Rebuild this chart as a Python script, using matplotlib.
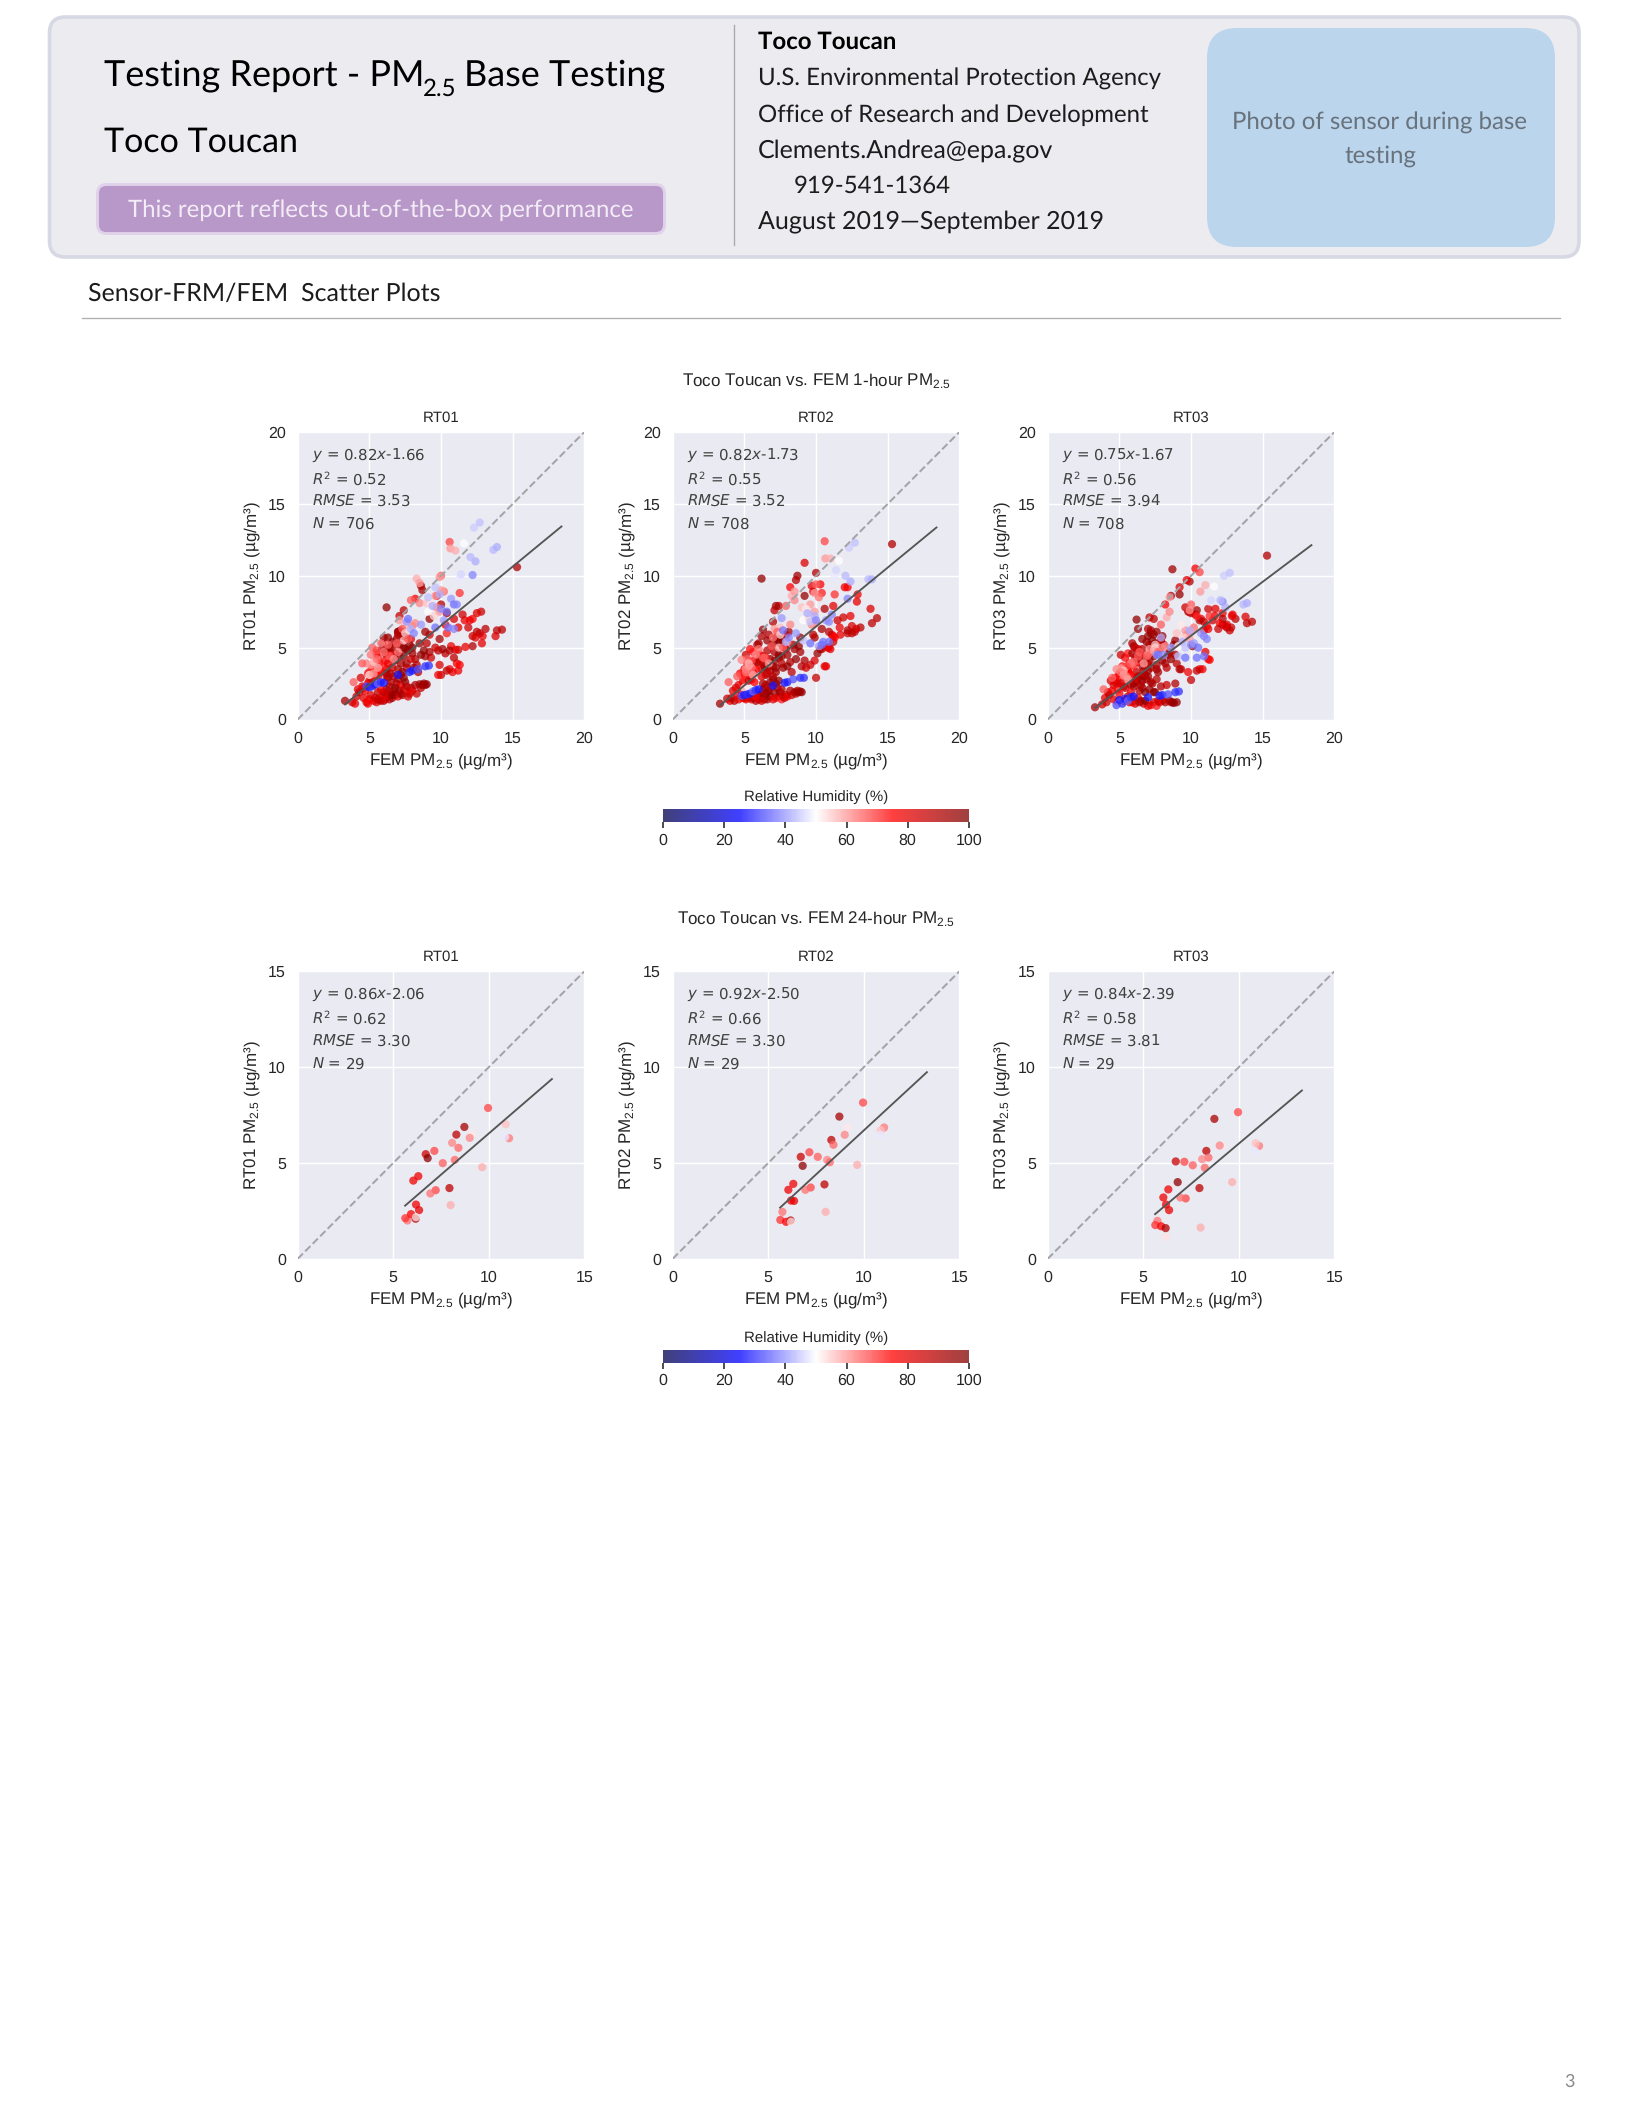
import matplotlib
matplotlib.use("Agg")
import matplotlib.pyplot as plt
from matplotlib.cm import ScalarMappable
from matplotlib.colors import Normalize
from matplotlib.patches import FancyBboxPatch

plt.rcParams["font.family"] = ["Liberation Sans", "DejaVu Sans"]
plt.rcParams["mathtext.fontset"] = "custom"
plt.rcParams["mathtext.rm"] = "Liberation Sans"
plt.rcParams["text.hinting"] = "no_hinting"
plt.rcParams["text.hinting_factor"] = 1

sensors = ["RT01", "RT02", "RT03"]

# 1-hour averages: FEM reference, the three sensors and relative humidity
hour_fem = [
    15.3, 14.25, 13.9, 13.8, 13.1, 12.9, 12.85, 12.8, 12.7, 12.5, 12.5, 12.4,
    12.2, 12.2, 12.2, 12.0, 11.9, 11.7, 11.65, 11.5, 11.2, 11.2, 11.2, 11.1,
    11.3, 11.0, 10.9, 10.9, 10.8, 10.7, 10.6, 10.6, 10.4, 10.4, 10.3, 10.1,
    10.0, 10.0, 9.9, 9.9, 9.8, 9.8, 9.6, 9.3, 9.2, 9.2, 9.0, 8.9,
    8.7, 8.6, 9.2, 8.2, 10.3, 10.4, 9.7, 7.4, 7.1, 7.2, 7.0, 6.2,
    6.3, 5.9, 8.9, 8.5, 8.6, 8.2, 8.0, 8.3, 7.6, 7.9, 7.8, 7.6,
    7.4, 7.2, 7.0, 6.9, 7.1, 7.4, 6.6, 6.3, 6.0, 6.8, 7.1, 7.4,
    6.6, 6.2, 5.6, 6.5, 7.0, 7.6, 6.1, 5.6, 5.0, 4.6, 4.9, 5.4,
    5.2, 5.7, 6.0, 6.3, 6.5, 6.8, 5.0, 5.4, 5.8, 6.2, 6.6, 7.2,
    4.4, 4.7, 5.1, 5.5, 5.9, 6.2, 6.6, 7.0, 7.3, 7.7, 8.0, 8.4,
    4.2, 4.9, 5.3, 5.7, 6.1, 6.4, 6.7, 7.2, 7.5, 7.9, 8.1, 8.8,
    3.3, 3.8, 4.0, 4.1, 4.3, 4.5, 4.6, 4.8, 4.9, 5.0, 5.1, 5.3,
    5.4, 5.5, 5.6, 5.7, 5.8, 5.9, 6.0, 6.1, 6.2, 6.3, 6.4, 6.5,
    6.6, 6.7, 6.8, 6.9, 7.0, 7.1, 7.2, 7.3, 7.4, 7.5, 7.6, 7.7,
    7.8, 7.9, 8.0, 8.2, 8.3, 8.5, 8.6, 8.7, 8.8, 8.9, 9.0, 6.3,
    5.6, 6.0, 6.4, 6.8, 7.2, 7.6, 5.8, 6.2, 6.6, 7.0, 7.4, 6.5,
    11.6, 10.6, 10.65, 11.0, 10.0, 9.9, 8.3, 8.5, 7.9, 8.5, 9.6, 10.2,
    9.0, 9.3, 9.7, 9.1, 9.5, 9.9, 7.1, 7.5, 7.3, 7.5, 6.3, 5.8,
    5.2, 5.5, 4.8, 5.1, 5.3, 5.5, 5.6, 5.1, 4.5, 3.9, 5.0, 5.3,
    6.0, 6.4, 6.7, 7.0, 7.4, 6.9, 11.3, 11.3, 10.0, 7.7, 8.0, 8.2,
    7.6, 7.7, 7.9, 8.1, 8.6, 9.1, 9.4, 9.6, 9.9, 10.0, 10.2,
    10.4, 10.7, 10.9, 11.1, 10.5, 10.9, 9.6, 12.2, 12.4, 12.05, 11.4,
    13.65, 13.9, 12.3, 12.7,
    4.8, 5.0, 5.2, 5.4, 5.6, 5.8, 6.0, 7.0, 7.8, 8.0, 8.4, 8.9, 9.15,
]
hour_rt01 = [
    10.6, 6.25, 6.2, 5.8, 6.3, 5.8, 5.3, 7.5, 6.0, 7.4, 6.1, 5.7,
    7.0, 5.8, 5.1, 6.9, 6.4, 5.05, 6.9, 7.3, 6.4, 3.4, 4.85, 3.9,
    3.8, 4.85, 4.3, 7.0, 3.3, 5.1, 4.8, 3.5, 3.4, 7.4, 4.6, 4.9,
    3.1, 8.0, 3.8, 5.6, 3.1, 4.8, 5.0, 4.3, 4.7, 7.0, 5.3, 4.4,
    9.0, 9.3, 5.9, 8.4, 6.6, 6.0, 8.6, 7.6, 7.2, 6.0, 6.1, 7.8,
    5.7, 5.3, 6.1, 5.3, 4.5, 4.2, 4.6, 3.8, 3.9, 5.6, 5.2, 5.7,
    5.8, 6.2, 6.1, 5.6, 5.2, 5.0, 5.0, 4.7, 5.7, 4.6, 4.4, 4.4,
    4.2, 3.5, 3.0, 3.2, 3.5, 3.6, 4.1, 4.3, 2.7, 2.2, 2.5, 3.1,
    3.6, 3.9, 3.7, 3.9, 4.5, 4.1, 3.3, 3.4, 3.3, 3.0, 3.6, 3.9,
    2.9, 2.0, 2.9, 4.6, 4.9, 3.2, 5.4, 5.9, 3.3, 4.8, 5.0, 3.3,
    2.1, 3.2, 2.4, 3.4, 4.6, 5.0, 3.0, 3.1, 4.9, 4.2, 3.6, 4.8,
    1.3, 1.2, 1.1, 1.6, 1.9, 2.3, 1.5, 1.2, 1.1, 1.4, 1.7, 1.3,
    1.5, 1.2, 1.9, 1.4, 1.3, 1.7, 1.3, 1.4, 2.1, 1.6, 1.4, 1.8,
    1.5, 2.0, 1.7, 2.5, 1.6, 2.0, 2.4, 1.7, 2.1, 2.6, 1.9, 1.6,
    1.8, 2.2, 2.0, 2.4, 1.8, 2.45, 2.2, 2.4, 2.5, 2.4, 2.45, 2.9,
    1.4, 1.9, 2.3, 2.2, 1.8, 2.3, 2.1, 1.8, 1.7, 2.8, 2.9, 2.6,
    12.25, 12.35, 11.9, 11.75, 10.0, 9.9, 9.8, 9.5, 8.3, 8.1, 8.6, 8.9,
    8.1, 8.0, 7.8, 7.5, 7.2, 7.5, 6.9, 6.6, 6.3, 6.0, 5.2, 5.3,
    5.0, 4.8, 3.9, 3.8, 4.0, 4.2, 3.6, 4.5, 3.9, 2.6, 3.1, 3.2,
    4.7, 4.4, 4.2, 4.7, 5.5, 5.3, 9.8, 8.8, 9.0, 5.6, 6.5, 6.7,
    6.8, 7.0, 6.3, 6.0, 6.6, 8.5, 7.9, 9.2, 8.7, 7.7, 6.9,
    7.5, 8.4, 8.0, 8.0, 6.4, 6.3, 6.4, 10.05, 11.0, 11.3, 10.1,
    11.8, 12.0, 13.35, 13.7,
    2.3, 2.25, 2.3, 2.45, 2.5, 2.6, 2.55, 3.1, 3.3, 3.4, 3.5, 3.7, 3.75,
]
hour_rt02 = [
    12.2, 7.05, 6.7, 7.7, 6.4, 8.7, 8.2, 6.3, 6.1, 6.5, 6.0, 7.2,
    9.2, 6.0, 6.2, 9.2, 7.1, 5.9, 6.4, 6.9, 7.9, 5.8, 5.4, 5.9,
    5.7, 4.9, 6.1, 5.0, 5.0, 3.7, 7.7, 3.7, 4.9, 6.3, 4.9, 4.6,
    2.9, 10.2, 4.1, 5.7, 8.9, 5.9, 3.8, 3.6, 4.1, 8.6, 3.7, 4.7,
    10.0, 9.7, 10.9, 9.2, 9.4, 8.8, 9.3, 7.9, 7.6, 7.9, 6.8, 9.8,
    6.25, 5.2, 5.7, 4.9, 4.2, 4.0, 4.5, 3.3, 4.4, 5.9, 5.0, 5.6,
    5.5, 5.7, 5.3, 5.1, 4.7, 4.5, 4.8, 4.4, 5.3, 4.2, 4.1, 4.3,
    3.6, 3.5, 3.3, 3.1, 3.7, 3.9, 4.5, 4.7, 3.5, 2.4, 2.6, 4.9,
    3.9, 4.1, 3.8, 3.9, 4.3, 3.4, 3.1, 3.0, 3.5, 3.0, 3.2, 3.3,
    2.2, 3.2, 4.5, 2.8, 4.0, 5.8, 5.5, 3.0, 5.7, 3.6, 3.7, 5.2,
    2.0, 2.9, 2.7, 2.6, 4.2, 3.7, 5.9, 3.6, 5.3, 4.9, 6.1, 5.1,
    1.1, 1.45, 1.3, 1.5, 1.3, 1.7, 1.4, 2.0, 1.5, 1.5, 1.4, 1.5,
    1.6, 1.4, 1.5, 1.6, 1.3, 1.5, 1.4, 1.7, 1.5, 2.0, 1.4, 1.8,
    1.4, 2.0, 1.6, 2.3, 1.4, 1.9, 1.5, 2.2, 1.6, 1.9, 1.4, 1.6,
    1.5, 1.7, 1.6, 2.0, 1.7, 1.9, 1.8, 2.0, 1.9, 1.95, 1.9, 2.5,
    1.8, 1.7, 2.2, 2.6, 2.5, 2.1, 1.6, 1.3, 1.9, 2.8, 2.7, 2.4,
    11.05, 12.4, 11.2, 11.2, 9.4, 8.8, 8.6, 8.9, 7.9, 8.3, 8.0, 8.5,
    7.8, 7.7, 6.6, 6.9, 7.0, 7.5, 6.3, 6.4, 6.1, 5.9, 4.3, 4.5,
    4.2, 4.1, 4.15, 3.5, 3.9, 3.6, 3.1, 3.3, 3.0, 2.6, 2.2, 3.7,
    4.9, 4.3, 3.9, 5.7, 5.0, 5.1, 9.9, 8.7, 6.7, 5.0, 5.4, 6.6,
    7.05, 6.2, 5.4, 5.7, 6.0, 5.5, 7.4, 6.8, 7.2, 6.9, 5.1,
    5.2, 6.9, 5.4, 7.3, 5.4, 6.8, 5.3, 8.4, 9.6, 10.0, 10.4,
    9.75, 9.75, 11.95, 12.3,
    1.65, 1.7, 1.75, 1.8, 1.95, 2.05, 2.1, 2.35, 2.55, 2.6, 2.8, 2.9, 2.9,
]
hour_rt03 = [
    11.4, 6.8, 6.7, 7.15, 7.0, 7.3, 7.2, 6.4, 6.2, 6.6, 6.4, 6.5,
    7.4, 6.6, 7.0, 6.7, 6.3, 7.7, 7.2, 6.9, 6.3, 4.2, 7.7, 6.5,
    4.15, 4.7, 6.8, 6.2, 3.5, 7.0, 6.9, 3.5, 3.4, 7.6, 7.3, 5.1,
    2.75, 7.4, 7.5, 9.6, 3.3, 7.5, 7.8, 3.5, 3.5, 8.7, 3.9, 4.5,
    10.45, 8.6, 9.2, 8.0, 10.5, 7.2, 9.7, 7.0, 7.1, 6.2, 6.3, 6.95,
    6.3, 5.3, 5.5, 4.7, 4.2, 3.9, 4.1, 3.6, 3.8, 5.5, 4.9, 6.1,
    5.9, 6.0, 5.8, 5.4, 5.2, 4.6, 4.9, 4.9, 5.1, 4.2, 4.1, 4.4,
    3.7, 3.3, 3.4, 3.0, 3.4, 3.5, 4.3, 4.6, 3.2, 2.4, 2.6, 4.3,
    3.7, 3.9, 3.7, 4.0, 4.5, 3.1, 3.0, 2.9, 3.1, 2.7, 3.0, 3.6,
    2.7, 2.9, 4.5, 3.5, 4.6, 4.2, 5.6, 3.9, 5.5, 3.3, 5.8, 4.5,
    1.9, 2.1, 2.3, 3.2, 5.0, 4.5, 3.4, 5.0, 5.3, 5.6, 5.2, 5.2,
    0.85, 1.05, 1.5, 1.2, 1.7, 2.0, 1.4, 2.5, 1.25, 1.8, 2.5, 1.3,
    2.2, 1.4, 2.8, 1.2, 2.4, 1.2, 2.5, 1.1, 2.6, 1.5, 2.0, 1.3,
    2.2, 1.1, 1.9, 2.8, 0.95, 2.1, 1.0, 2.5, 1.2, 1.9, 0.95, 1.3,
    1.2, 2.3, 1.3, 1.2, 2.4, 1.3, 1.2, 1.2, 1.15, 2.5, 1.2, 3.0,
    1.6, 2.3, 1.2, 1.3, 2.6, 2.8, 1.9, 2.9, 2.7, 3.0, 1.9, 2.4,
    9.25, 10.25, 8.9, 9.35, 8.0, 7.6, 7.1, 8.5, 6.6, 7.5, 6.2, 6.4,
    6.0, 6.6, 5.9, 5.1, 5.7, 5.6, 4.9, 5.2, 4.7, 5.0, 4.4, 3.9,
    3.6, 3.7, 3.5, 3.55, 3.4, 3.0, 2.8, 3.3, 2.9, 2.1, 1.2, 3.1,
    4.0, 4.7, 3.9, 4.5, 4.8, 4.4, 8.2, 7.2, 6.1, 4.7, 5.0, 5.1,
    4.5, 4.5, 5.7, 4.5, 5.0, 4.4, 5.4, 5.0, 6.2, 5.2, 5.3,
    4.3, 6.0, 4.4, 5.6, 5.0, 5.8, 4.3, 8.2, 7.8, 8.3, 8.3,
    8.0, 8.1, 10.0, 10.2,
    1.0, 1.35, 1.1, 1.45, 1.3, 1.55, 1.6, 1.55, 1.65, 1.7, 1.75, 1.9, 1.95,
]
hour_rh = [
    90, 88, 88, 82, 88, 78, 80, 85, 85, 82, 88, 80,
    76, 85, 90, 78, 84, 80, 78, 84, 80, 78, 85, 76,
    76, 80, 88, 82, 78, 78, 90, 80, 86, 92, 88, 95,
    86, 90, 82, 92, 78, 88, 85, 84, 90, 95, 88, 92,
    94, 90, 82, 76, 76, 72, 80, 88, 86, 92, 90, 96,
    95, 90, 94, 92, 95, 90, 94, 88, 92, 80, 96, 94,
    95, 92, 96, 94, 90, 96, 88, 85, 92, 97, 92, 95,
    92, 88, 78, 94, 90, 88, 75, 72, 76, 80, 78, 74,
    74, 76, 72, 78, 74, 90, 72, 70, 74, 80, 85, 92,
    82, 76, 85, 78, 92, 90, 94, 88, 96, 92, 95, 90,
    80, 72, 84, 75, 86, 95, 90, 94, 97, 85, 92, 96,
    92, 85, 80, 84, 88, 78, 80, 82, 78, 75, 82, 80,
    84, 80, 88, 78, 90, 76, 86, 82, 90, 75, 88, 92,
    92, 85, 96, 88, 80, 94, 78, 90, 84, 96, 72, 82,
    85, 90, 78, 90, 85, 92, 88, 94, 96, 90, 95, 90,
    86, 94, 90, 96, 92, 88, 78, 84, 95, 92, 96, 90,
    50, 68, 60, 58, 66, 60, 58, 60, 66, 62, 60, 64,
    56, 52, 62, 50, 54, 60, 60, 56, 66, 54, 66, 62,
    66, 68, 62, 60, 56, 64, 58, 64, 66, 66, 52, 60,
    64, 66, 60, 64, 58, 66, 48, 70, 60, 66, 62, 62,
    40, 36, 42, 38, 40, 44, 42, 44, 42, 38, 40,
    36, 40, 36, 38, 36, 38, 36, 38, 42, 43, 46,
    43, 42, 45, 44,
    33, 27, 30, 28, 35, 30, 27, 27, 28, 28, 33, 30, 30,
]

# 24-hour averages
day_fem = [9.96, 8.72, 9.14, 9.0, 8.3, 8.41, 8.08, 8.22, 7.59, 7.15, 6.7, 6.8, 6.31, 6.05, 7.94,
           7.22, 6.94, 6.19, 6.35, 5.74, 5.63, 5.93, 6.17, 6.19, 8.0, 9.65, 11.06, 10.88, 10.85]
day_rt01 = [7.87, 6.88, 6.52, 6.31, 6.48, 5.79, 6.05, 5.16, 4.99, 5.63, 5.46, 5.25, 4.31, 4.08, 3.69,
            3.58, 3.41, 2.83, 2.54, 2.0, 2.12, 2.33, 2.09, 2.17, 2.8, 4.78, 6.29, 7.02, 6.36]
day_rt02 = [8.15, 7.42, 6.85, 6.47, 6.2, 5.95, 5.16, 5.04, 5.32, 5.56, 5.32, 4.85, 3.91, 3.6, 3.88,
            3.72, 3.6, 3.04, 3.02, 2.45, 2.03, 1.93, 2.0, 1.93, 2.45, 4.9, 6.85, 6.71, 6.47]
day_rt03 = [7.65, 7.3, 5.9, 5.91, 5.63, 5.28, 5.2, 4.75, 4.88, 5.06, 5.08, 4.0, 3.62, 3.2, 3.69,
            3.15, 3.2, 2.83, 2.54, 1.98, 1.76, 1.7, 1.6, 1.15, 1.63, 4.0, 5.89, 6.03, 5.63]
day_rh = [68, 92, 52, 62, 88, 65, 62, 65, 66, 68, 85, 97, 78, 78, 88,
          68, 64, 78, 80, 64, 70, 75, 90, 53, 58, 58, 63, 56, 48]

# regression results printed on each panel
hour_slope = [0.82, 0.82, 0.75]
hour_intercept = [-1.66, -1.73, -1.67]
hour_r2 = ["0.52", "0.55", "0.56"]
hour_rmse = ["3.53", "3.52", "3.94"]
hour_n = ["706", "708", "708"]
hour_fit_range = [3.3, 18.4]

day_slope = [0.86, 0.92, 0.84]
day_intercept = [-2.06, -2.50, -2.39]
day_r2 = ["0.62", "0.66", "0.58"]
day_rmse = ["3.30", "3.30", "3.81"]
day_n = ["29", "29", "29"]
day_fit_range = [5.62, 13.3]

rh_ticks = [0, 20, 40, 60, 80, 100]

W, H = 1632, 2112
fig = plt.figure(figsize=(8.5, 11), dpi=192)
text_dark = "#262626"


def px_axes(left, top, width, height):
    return fig.add_axes([left / W, 1 - (top + height) / H, width / W, height / H])


def page_text(x, y, s, size, color="black", ha="left", weight="normal"):
    page.text(x, y, s, fontsize=size, color=color, ha=ha, va="center",
              family="Lato", fontweight=weight)


def rounded_box(x0, y0, x1, y1, radius, face, edge=None, lw=0):
    page.add_patch(FancyBboxPatch((x0, y0), x1 - x0, y1 - y0,
                                  boxstyle=f"round,pad=0,rounding_size={radius}",
                                  facecolor=face, edgecolor=edge or face, linewidth=lw))


def scatter_panel(left, top, sensor, fem, values, rh, limit, ticks, slope, intercept,
                  r2, rmse, n, fit_range):
    ax = px_axes(left, top, 286.7, 287.5)
    ax.set_facecolor("#eaeaf2")
    for spine in ax.spines.values():
        spine.set_visible(False)
    ax.grid(True, color="white", linewidth=0.55)
    ax.set_axisbelow(True)
    ax.scatter(fem, values, c=rh, cmap="seismic", vmin=0, vmax=100, s=9.5, alpha=0.75,
               linewidths=0, zorder=2)
    ax.plot([0, limit], [0, limit], color="#a3a3a8", linestyle="--", linewidth=0.75, zorder=3)
    fit_y = [slope * x + intercept for x in fit_range]
    ax.plot(fit_range, fit_y, color="#555555", linewidth=0.7, zorder=4)
    ax.set_xlim(0, limit)
    ax.set_ylim(0, limit)
    ax.set_xticks(ticks)
    ax.set_yticks(ticks)
    ax.tick_params(length=0, labelsize=6, labelcolor=text_dark, pad=4.4)
    ax.set_title(sensor, fontsize=5.7, color=text_dark, pad=3.9)
    ax.set_xlabel(r"FEM PM$_{\mathregular{2.5}}$ (µg/m³)", fontsize=6.5, color=text_dark)
    ax.set_ylabel(sensor + r" PM$_{\mathregular{2.5}}$ (µg/m³)", fontsize=6.5, color=text_dark)
    ax.xaxis.set_label_coords(0.5, -0.109)
    ax.yaxis.set_label_coords(-0.124, 0.5)

    sign = "-" if intercept < 0 else "+"
    stats = [f"$y$ = {slope:.2f}$x${sign}{abs(intercept):.2f}", f"$R^2$ = {r2}",
             f"$RMSE$ = {rmse}", f"$N$ = {n}"]
    for frac, line in zip([0.918, 0.838, 0.758, 0.678], stats):
        ax.text(0.049, frac, line, transform=ax.transAxes, fontsize=5.6, color="#404040",
                va="center", family="DejaVu Sans", math_fontfamily="dejavusans", zorder=5)
    return ax


def rh_colorbar(top):
    cax = px_axes(663.3, top, 305.4, 13)
    bar = fig.colorbar(ScalarMappable(norm=Normalize(0, 100), cmap="seismic"), cax=cax,
                       orientation="horizontal", alpha=0.75)
    bar.set_ticks(rh_ticks)
    bar.outline.set_visible(False)
    bar.ax.tick_params(length=2.2, width=0.6, color=text_dark, labelsize=6,
                       labelcolor=text_dark, pad=1.9)
    cax.set_title("Relative Humidity (%)", fontsize=5.8, color=text_dark, pad=3.0)


# full page layer in pixel coordinates, everything around the charts sits here
page = fig.add_axes([0, 0, 1, 1], zorder=-1)
page.set_xlim(0, W)
page.set_ylim(H, 0)
page.axis("off")

rounded_box(49.5, 17, 1579, 257, 16, "#ebebf0", "#d6d8e4", 1.35)
rounded_box(97.5, 184.5, 664.5, 233.5, 9, "#b897c9", "#e0d2ea", 1.1)
rounded_box(1207, 28, 1555, 247, 30, "#bbd5ed")
page.plot([734, 734], [25, 245], color="#a8a8b0", linewidth=0.5)
page.plot([82, 1560], [317.5, 317.5], color="#b0b0b0", linewidth=0.5)

page_text(104, 76, "Testing Report - PM", 13.6)
page_text(423, 89, "2.5", 9.0)
page_text(464.5, 76, "Base Testing", 13.5)
page_text(104, 142, "Toco Toucan", 12.8)
page_text(381, 210, "This report reflects out-of-the-box performance", 9.0, "#f3ecf6", ha="center")

page_text(758, 42, "Toco Toucan", 8.85, weight="bold")
page_text(758, 79, "U.S. Environmental Protection Agency", 9.0, "#1c1c1c")
page_text(758, 115, "Office of Research and Development", 9.0, "#1c1c1c")
page_text(758, 151, "Clements.Andrea@epa.gov", 9.4, "#1c1c1c")
page_text(794, 186, "919-541-1364", 9.0, "#1c1c1c")
page_text(758, 222, "August 2019—September 2019", 9.3, "#1c1c1c")

page_text(1380, 123, "Photo of sensor during base", 9.05, "#68727c", ha="center")
page_text(1380, 156, "testing", 9.05, "#68727c", ha="center")

page_text(88, 293.5, "Sensor-FRM/FEM  Scatter Plots", 9.4, "#1c1c1c")
page_text(1569, 2082, "3", 6.6, "#8a8a8a", ha="center")

fig.text(816 / W, 1 - 381 / H, r"Toco Toucan vs. FEM 1-hour PM$_{\mathregular{2.5}}$", fontsize=6.4,
         color=text_dark, ha="center", va="center")
fig.text(816 / W, 1 - 919 / H, r"Toco Toucan vs. FEM 24-hour PM$_{\mathregular{2.5}}$", fontsize=6.4,
         color=text_dark, ha="center", va="center")

panel_lefts = [297.7, 672.7, 1047.7]
hour_series = [hour_rt01, hour_rt02, hour_rt03]
day_series = [day_rt01, day_rt02, day_rt03]

for i, sensor in enumerate(sensors):
    scatter_panel(panel_lefts[i], 432, sensor, hour_fem, hour_series[i], hour_rh, 20,
                  [0, 5, 10, 15, 20], hour_slope[i], hour_intercept[i], hour_r2[i],
                  hour_rmse[i], hour_n[i], hour_fit_range)
    scatter_panel(panel_lefts[i], 971.3, sensor, day_fem, day_series[i], day_rh, 15,
                  [0, 5, 10, 15], day_slope[i], day_intercept[i], day_r2[i],
                  day_rmse[i], day_n[i], day_fit_range)

rh_colorbar(809.3)
rh_colorbar(1349.5)

fig.savefig("out.png", dpi=192)
